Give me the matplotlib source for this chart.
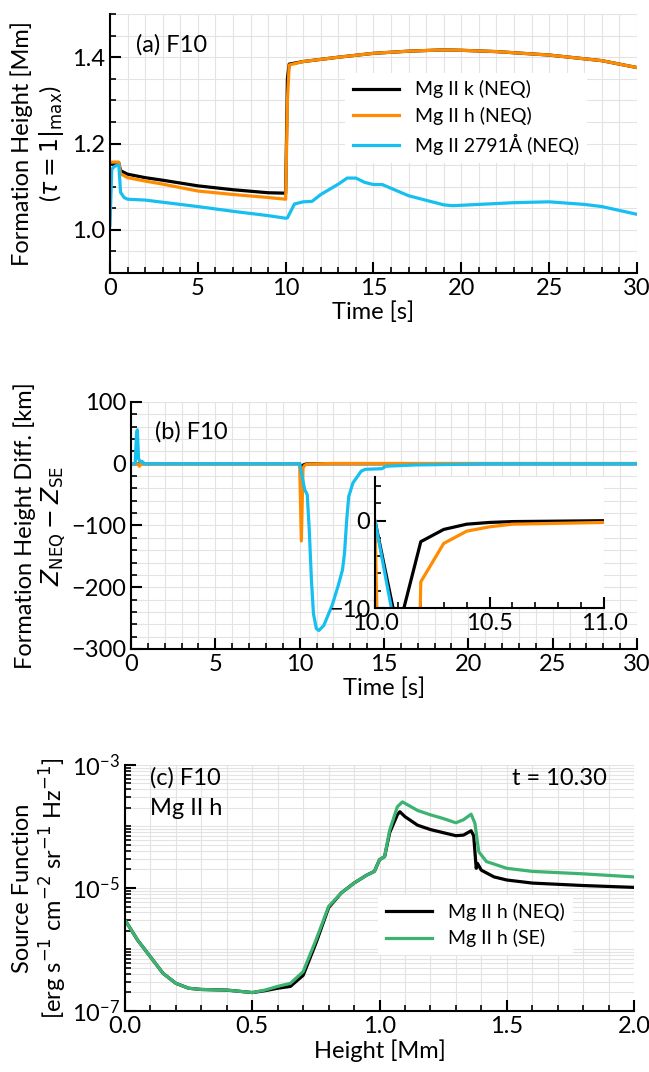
import numpy as np
import matplotlib
matplotlib.use('Agg')
import matplotlib.pyplot as plt
from matplotlib.ticker import MultipleLocator, LogLocator, NullFormatter, FormatStrFormatter

plt.rcParams['font.family'] = ['Lato', 'DejaVu Sans']
plt.rcParams['mathtext.fontset'] = 'dejavusans'

# ---- panel (a): formation height of tau=1 [Mm]
t_k = [0, 0.5, 0.6, 1, 2, 3, 5, 7, 9, 10.0, 10.1, 10.2, 11, 13, 15, 17, 19, 20, 22, 25, 28, 30]
h_k = [1.155, 1.155, 1.137, 1.129, 1.121, 1.115, 1.102, 1.093, 1.086, 1.085, 1.35, 1.384, 1.390,
       1.400, 1.409, 1.414, 1.417, 1.416, 1.413, 1.405, 1.392, 1.376]
t_h = [0, 0.5, 0.6, 1, 2, 3, 5, 7, 9, 10.0, 10.1, 10.2, 11, 13, 15, 17, 19, 20, 22, 25, 28, 30]
h_h = [1.157, 1.157, 1.130, 1.121, 1.113, 1.106, 1.090, 1.082, 1.075, 1.071, 1.30, 1.382, 1.390,
       1.400, 1.409, 1.414, 1.417, 1.416, 1.413, 1.405, 1.392, 1.376]
t_b = [0, 0.1, 0.2, 0.4, 0.5, 0.55, 0.6, 0.8, 1, 2, 3, 5, 7, 9, 10, 10.1, 10.3, 10.5, 11, 11.5,
       12, 13, 13.5, 14, 14.5, 15, 15.5, 17, 19, 19.5, 21, 23, 25, 27, 28, 30]
h_b = [1.01, 1.14, 1.145, 1.15, 1.15, 1.12, 1.087, 1.075, 1.071, 1.069, 1.064, 1.054, 1.043, 1.033,
       1.027, 1.028, 1.044, 1.060, 1.065, 1.066, 1.082, 1.106, 1.120, 1.120, 1.110, 1.105, 1.105,
       1.079, 1.058, 1.056, 1.059, 1.063, 1.065, 1.059, 1.054, 1.036]

# ---- panel (b): Z_NEQ - Z_SE [km]
d_tk = [0, 10.0, 10.1, 10.2, 10.3, 10.4, 10.5, 10.6, 10.8, 11.0, 30]
d_k = [0, 0, -12.7, -2.4, -1.0, -0.4, -0.2, -0.1, -0.05, 0, 0]
d_th = [0, 0.4, 0.5, 0.6, 10.0, 10.1, 10.2, 10.3, 10.4, 10.5, 10.6, 11.0, 12, 30]
d_h = [0, 0, -4, 0, 0, -125, -7.0, -2.6, -1.2, -0.7, -0.4, -0.2, 0.5, 0.5]
d_tb = [0, 0.25, 0.33, 0.38, 0.45, 0.55, 0.65, 0.8, 10.0, 10.1, 10.3, 10.45, 10.57, 10.70, 10.82,
        10.99, 11.14, 11.43, 11.93, 12.29, 12.54, 12.66, 12.79, 12.91, 13.16, 13.65, 13.89, 14.88,
        15.12, 16.8, 19.3, 21, 30]
d_b = [0, 0, 50, 55, 8, 3, 4, 0, 0, -14, -42, -50, -107, -189, -243, -267, -270, -262, -229,
       -197, -172, -145, -91, -53, -31, -12, -9, -8, -4, -2, -1, 0, 0]

# ---- panel (c): source function at t = 10.30
z_se = [0, 0.05, 0.1, 0.15, 0.2, 0.25, 0.3, 0.4, 0.5, 0.55, 0.6, 0.65, 0.7, 0.75, 0.8, 0.85, 0.9,
        0.95, 0.98, 1.0, 1.02, 1.04, 1.07, 1.09, 1.12, 1.15, 1.2, 1.25, 1.3, 1.33, 1.36, 1.375,
        1.39, 1.42, 1.5, 1.6, 1.8, 2.0]
logs_se = [-5.52, -5.85, -6.12, -6.39, -6.55, -6.63, -6.65, -6.66, -6.70, -6.66, -6.60, -6.55,
           -6.36, -5.85, -5.30, -5.08, -4.92, -4.79, -4.73, -4.54, -4.49, -4.06, -3.68, -3.60,
           -3.67, -3.74, -3.81, -3.87, -3.94, -3.89, -3.80, -3.95, -4.41, -4.57, -4.68, -4.73,
           -4.77, -4.82]
z_neq = [0, 0.05, 0.1, 0.15, 0.2, 0.25, 0.3, 0.4, 0.5, 0.55, 0.6, 0.65, 0.7, 0.75, 0.8, 0.85, 0.9,
         0.95, 0.98, 1.0, 1.02, 1.04, 1.07, 1.08, 1.1, 1.15, 1.2, 1.25, 1.3, 1.33, 1.36, 1.37,
         1.38, 1.385, 1.4, 1.45, 1.5, 1.6, 1.8, 2.0]
logs_neq = [-5.52, -5.85, -6.12, -6.39, -6.55, -6.63, -6.65, -6.66, -6.70, -6.67, -6.63, -6.60,
            -6.42, -5.90, -5.32, -5.08, -4.92, -4.79, -4.73, -4.54, -4.49, -4.10, -3.81, -3.76,
            -3.84, -3.98, -4.05, -4.10, -4.15, -4.14, -4.07, -4.15, -4.68, -4.60, -4.71, -4.82,
            -4.87, -4.92, -4.96, -4.99]

c_k = 'black'
c_h = '#ff8c00'
c_b = '#16bff0'
c_se = '#3cb371'
lw = 2.3
fs = 17
fs_leg = 14
grid_c = '#e3e3e3'


def style(ax, grid=True):
    for s in ['top', 'right']:
        ax.spines[s].set_visible(False)
    for s in ['left', 'bottom']:
        ax.spines[s].set_linewidth(1.5)
    ax.tick_params(which='major', direction='in', length=8, width=1.5, labelsize=fs)
    ax.tick_params(which='minor', direction='in', length=4.5, width=1.2)
    if grid:
        ax.grid(True, which='both', color=grid_c, lw=0.8)
        ax.set_axisbelow(True)


fig = plt.figure(figsize=(6.49, 10.72), dpi=100)

# (a)
ax1 = fig.add_axes([0.1695, 0.7453, 0.812, 0.2416])
style(ax1)
ax1.plot(t_k, h_k, color=c_k, lw=lw, label='Mg II k (NEQ)')
ax1.plot(t_h, h_h, color=c_h, lw=lw, label='Mg II h (NEQ)')
ax1.plot(t_b, h_b, color=c_b, lw=lw, label='Mg II 2791Å (NEQ)')
ax1.set_xlim(0, 30)
ax1.set_ylim(0.9, 1.5)
ax1.xaxis.set_major_locator(MultipleLocator(5))
ax1.xaxis.set_minor_locator(MultipleLocator(1))
ax1.yaxis.set_major_locator(MultipleLocator(0.2))
ax1.yaxis.set_minor_locator(MultipleLocator(0.05))
ax1.set_xlabel('Time [s]', fontsize=fs, labelpad=2)
ax1.set_ylabel('Formation Height [Mm]\n' + r'($\tau = 1|_{\rm max}$)', fontsize=fs, labelpad=4)
ax1.text(0.05, 0.88, '(a) F10', transform=ax1.transAxes, fontsize=fs, va='center')
ax1.legend(loc='center left', bbox_to_anchor=(0.446, 0.60), fontsize=fs_leg, frameon=True,
           facecolor='white', edgecolor='none', framealpha=1, handlelength=2.4,
           borderaxespad=0, labelspacing=0.45)

# (b)
ax2 = fig.add_axes([0.2018, 0.3946, 0.7797, 0.2304])
style(ax2)
ax2.plot(d_tk, d_k, color=c_k, lw=lw)
ax2.plot(d_th, d_h, color=c_h, lw=lw)
ax2.plot(d_tb, d_b, color=c_b, lw=lw)
ax2.set_xlim(0, 30)
ax2.set_ylim(-300, 100)
ax2.xaxis.set_major_locator(MultipleLocator(5))
ax2.xaxis.set_minor_locator(MultipleLocator(1))
ax2.yaxis.set_major_locator(MultipleLocator(100))
ax2.yaxis.set_minor_locator(MultipleLocator(20))
ax2.set_xlabel('Time [s]', fontsize=fs, labelpad=2)
ax2.set_ylabel('Formation Height Diff. [km]\n' + r'$Z_{\rm NEQ} - Z_{\rm SE}$', fontsize=fs,
               labelpad=2)
ax2.text(0.047, 0.88, '(b) F10', transform=ax2.transAxes, fontsize=fs, va='center')

# inset zoom on the 10-11 s dip
axi = fig.add_axes([0.5778, 0.4328, 0.3529, 0.1222])
style(axi, grid=False)
axi.plot(d_tk, d_k, color=c_k, lw=lw)
axi.plot(d_th, d_h, color=c_h, lw=lw)
axi.plot(d_tb, d_b, color=c_b, lw=lw)
axi.set_xlim(10, 11)
axi.set_ylim(-10, 5)
axi.xaxis.set_major_locator(MultipleLocator(0.5))
axi.xaxis.set_minor_locator(MultipleLocator(0.1))
axi.yaxis.set_major_locator(MultipleLocator(10))
axi.yaxis.set_minor_locator(MultipleLocator(2))
axi.xaxis.set_major_formatter(FormatStrFormatter('%.1f'))

# (c)
ax3 = fig.add_axes([0.1926, 0.0569, 0.7843, 0.2295])
style(ax3)
ax3.plot(z_neq, 10 ** np.array(logs_neq), color=c_k, lw=lw, label='Mg II h (NEQ)')
ax3.plot(z_se, 10 ** np.array(logs_se), color=c_se, lw=lw, label='Mg II h (SE)')
ax3.set_yscale('log')
ax3.set_xlim(0, 2)
ax3.set_ylim(1e-7, 1e-3)
ax3.set_yticks([1e-7, 1e-5, 1e-3])
ax3.yaxis.set_minor_locator(LogLocator(base=10, subs=np.arange(1, 10), numticks=20))
ax3.yaxis.set_minor_formatter(NullFormatter())
ax3.xaxis.set_major_locator(MultipleLocator(0.5))
ax3.xaxis.set_minor_locator(MultipleLocator(0.1))
ax3.xaxis.set_major_formatter(FormatStrFormatter('%.1f'))
ax3.set_xlabel('Height [Mm]', fontsize=fs, labelpad=2)
ax3.set_ylabel('Source Function\n' + r'[erg s$^{-1}$ cm$^{-2}$ sr$^{-1}$ Hz$^{-1}$]',
               fontsize=fs, labelpad=2)
ax3.text(0.05, 0.947, '(c) F10', transform=ax3.transAxes, fontsize=fs, va='center')
ax3.text(0.05, 0.825, 'Mg II h', transform=ax3.transAxes, fontsize=fs, va='center')
ax3.text(0.947, 0.947, 't = 10.30', transform=ax3.transAxes, fontsize=fs, va='center', ha='right')
ax3.legend(loc='center left', bbox_to_anchor=(0.497, 0.35), fontsize=fs_leg, frameon=True,
           facecolor='white', edgecolor='none', framealpha=1, handlelength=2.4,
           borderaxespad=0, labelspacing=0.45)

fig.savefig('out.png', dpi=100)
